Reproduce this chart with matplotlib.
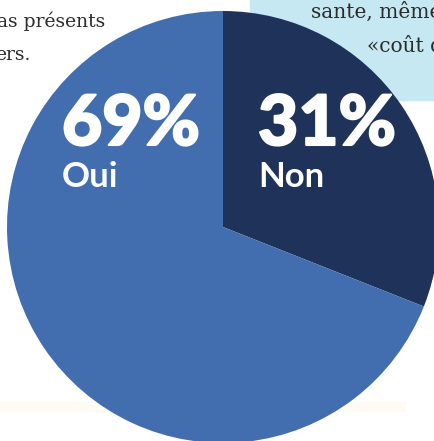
import matplotlib
matplotlib.use("Agg")
import matplotlib.pyplot as plt
from matplotlib.patches import Rectangle
import matplotlib.patheffects as pe

# données
categories = ["Non", "Oui"]
values = [31, 69]
pct_labels = ["31%", "69%"]
colors = ["#1f3259", "#426eb0"]

W, H = 435, 441
fig = plt.figure(figsize=(W / 100, H / 100), dpi=100)
ax = fig.add_axes([0, 0, 1, 1])

# fonds de la page
ax.add_patch(Rectangle((250, H - 100), 200, 110, color="#c6e8f3", zorder=0))
ax.add_patch(Rectangle((0, H - 411), 405, 9, color="#fdfbf4", zorder=0))

serif = "DejaVu Serif"
txt = dict(family=serif, color="#2b2b2b", zorder=1, va="baseline")
ax.text(-3, H - 27, "as présents", fontsize=13.5, **txt)
ax.text(-5, H - 60, "ers.", fontsize=13.5, **txt)
ax.text(311, H - 18, "sante, même", fontsize=14.5, **txt)
ax.text(367, H - 52, "«coût d", fontsize=14.5, **txt)

ax.pie(values, colors=colors, startangle=90, counterclock=False,
       center=(223, H - 227), radius=216, frame=True,
       wedgeprops=dict(linewidth=0, zorder=2))
ax.set_xlim(0, W)
ax.set_ylim(0, H)
ax.set_aspect("equal")
ax.axis("off")

# étiquettes
pos = {"Non": 258, "Oui": 62}
thick = [pe.withStroke(linewidth=1.5, foreground="white")]
for cat, pct in zip(categories, pct_labels):
    x = pos[cat]
    ax.text(x, H - 145, pct, fontsize=50, family="Lato", fontweight="black",
            color="white", zorder=3, va="baseline", path_effects=thick)
    ax.text(x, H - 187, cat, fontsize=25, family="Lato", fontweight="bold",
            color="white", zorder=3, va="baseline")

fig.savefig("out.png", dpi=100)
